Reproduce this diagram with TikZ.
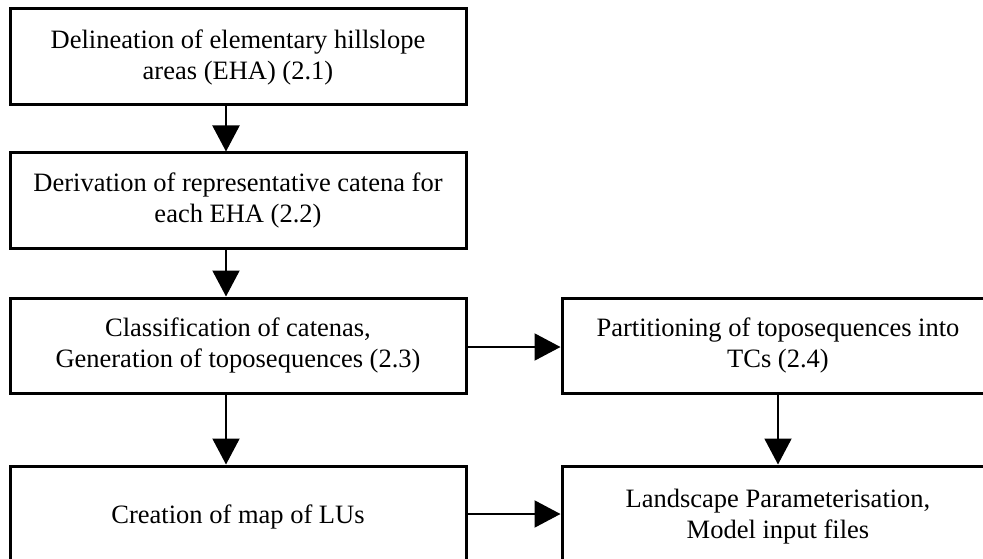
\documentclass[tikz,border=0pt]{standalone}
\usepackage{fontspec}
\setmainfont{Liberation Serif}
\usetikzlibrary{arrows.meta}
\begin{document}
\begin{tikzpicture}[x=1pt,y=-1pt,
  box/.style={draw, line width=3pt, align=center, inner sep=0pt,
    font=\fontsize{26.5}{31}\selectfont},
  conn/.style={line width=2pt, -{Triangle[length=26pt,width=27pt]}}]
\useasboundingbox (0,0) rectangle (983,559);
\node[box, minimum width=456pt, minimum height=96pt] (b1) at (238,57)
  {Delineation of elementary hillslope\\areas (EHA) (2.1)};
\node[box, minimum width=456pt, minimum height=95pt] (b2) at (238,200.5)
  {Derivation of representative catena for\\each EHA (2.2)};
\node[box, minimum width=456pt, minimum height=95pt] (b3) at (238,345.5)
  {Classification of catenas,\\Generation of toposequences (2.3)};
\node[box, minimum width=432pt, minimum height=95pt] (b4) at (778,345.5)
  {Partitioning of toposequences into\\TCs (2.4)};
\node[box, minimum width=456pt, minimum height=102pt] (b5) at (238,517)
  {Creation of map of LUs};
\node[box, minimum width=432pt, minimum height=102pt] (b6) at (778,517)
  {Landscape Parameterisation,\\Model input files};
\coordinate (c1) at (226,0);
\draw[conn] (b1.south -| c1) -- (b2.north -| c1);
\draw[conn] (b2.south -| c1) -- (b3.north -| c1);
\draw[conn] (b3.south -| c1) -- (b5.north -| c1);
\draw[conn] (b4) -- (b6);
\draw[conn] (b3.east |- 0,347) -- (b4.west |- 0,347);
\draw[conn] (b5.east |- 0,514) -- (b6.west |- 0,514);
\end{tikzpicture}
\end{document}
